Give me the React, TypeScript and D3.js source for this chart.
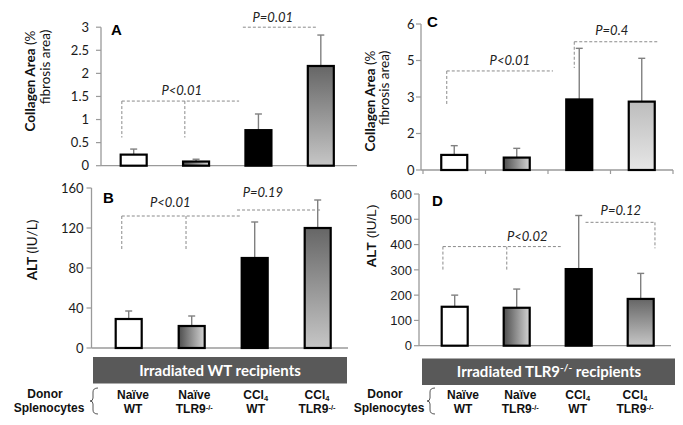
import * as d3 from 'd3';

const width = 683;
const height = 425;

// groups (donor splenocytes)
const groups = ['Naïve WT', 'Naïve TLR9-/-', 'CCl4 WT', 'CCl4 TLR9-/-'];

// A: collagen, irradiated WT recipients
const collagenWT = [0.24, 0.09, 0.77, 2.16];
const collagenWTErr = [0.12, 0.05, 0.35, 0.67];
// B: ALT, irradiated WT recipients
const altWT = [29, 22, 90, 120];
const altWTErr = [8, 10, 36, 28];
// C: collagen, irradiated TLR9-/- recipients
const collagenTLR9 = [0.62, 0.51, 2.9, 2.81];
const collagenTLR9Err = [0.38, 0.38, 2.1, 1.78];
// D: ALT, irradiated TLR9-/- recipients
const altTLR9 = [154, 150, 303, 185];
const altTLR9Err = [46, 74, 212, 101];

const ticksA = [0, 0.5, 1, 1.5, 2, 2.5, 3];
const tickLabelsA = ['0', '0.5', '1', '1.5', '2', '2.5', '3'];
const ticksB = [0, 40, 80, 120, 160];
const tickLabelsB = ['0', '40', '80', '120', '160'];
const ticksC = [0, 1.5, 3, 4.5, 6];
const tickLabelsC = ['0', '2', '3', '5', '6'];
const ticksD = [0, 100, 200, 300, 400, 500, 600];
const tickLabelsD = ['0', '100', '200', '300', '400', '500', '600'];

const pLabelsA = ['P<0.01', 'P=0.01'];
const pLabelsB = ['P<0.01', 'P=0.19'];
const pLabelsC = ['P<0.01', 'P=0.4'];
const pLabelsD = ['P<0.02', 'P=0.12'];

const calibri = 'Lato, "Open Sans", sans-serif';
const arial = '"Liberation Sans", Arial, sans-serif';

// brackets: x in category units (0..4), y in data units
const panels = [
  {
    id: 'A', values: collagenWT, errors: collagenWTErr, domain: [0, 3], ticks: ticksA, tickLabels: tickLabelsA,
    yRange: [165.7, 27.2], band: [102.5, 352], axisX: 101, axisEnd: 357, labelX: 89, xTicks: false, tickFont: calibri,
    fills: ['#fff', 'url(#hgrad)', '#000', 'url(#vgrad)'], pLabels: pLabelsA,
    brackets: [
      { x1: 0.31, x2: 2.19, y: 1.4, legs: [0.31, 1.32], legY: 0.61, tx: 1.27, ty: 1.53 },
      { x1: 2.25, x2: 3.44, y: 3.0, legs: [], legY: 0, tx: 2.73, ty: 3.11 },
    ],
    letter: [111, 35],
    title: [
      { x: 35, y: 81, parts: [['Collagen Area', true], [' (%', false]] },
      { x: 50, y: 67, parts: [['fibrosis area)', false]] },
    ],
    titleFont: calibri,
  },
  {
    id: 'B', values: altWT, errors: altWTErr, domain: [0, 160], ticks: ticksB, tickLabels: tickLabelsB,
    yRange: [348, 188], band: [97.2, 349.2], axisX: 91.5, axisEnd: 348, labelX: 83.5, xTicks: false, tickFont: calibri,
    fills: ['#fff', 'url(#hgrad)', '#000', 'url(#vgrad)'], pLabels: pLabelsB,
    brackets: [
      { x1: 0.39, x2: 2.27, y: 132, legs: [0.39, 1.41], legY: 97, tx: 1.16, ty: 141 },
      { x1: 2.22, x2: 3.54, y: 138, legs: [], legY: 0, tx: 2.63, ty: 151 },
    ],
    letter: [103, 203],
    title: [{ x: 37, y: 250, parts: [['ALT', true], [' (IU/L)', false]] }],
    titleFont: calibri,
  },
  {
    id: 'C', values: collagenTLR9, errors: collagenTLR9Err, domain: [0, 6], ticks: ticksC, tickLabels: tickLabelsC,
    yRange: [170, 24], band: [423, 673], axisX: 421, axisEnd: 673, labelX: 414.5, xTicks: true, tickFont: calibri,
    fills: ['#fff', 'url(#hgrad)', '#000', 'url(#vlight)'], pLabels: pLabelsC,
    brackets: [
      { x1: 0.38, x2: 2.08, y: 4.07, legs: [0.38], legY: 2.67, tx: 1.39, ty: 4.32 },
      { x1: 2.42, x2: 3.76, y: 5.27, legs: [2.42], legY: 4.19, tx: 3.02, ty: 5.55 },
    ],
    letter: [427, 27],
    title: [
      { x: 375, y: 101, parts: [['Collagen Area', true], [' (%', false]] },
      { x: 389, y: 88, parts: [['fibrosis area)', false]] },
    ],
    titleFont: calibri,
  },
  {
    id: 'D', values: altTLR9, errors: altTLR9Err, domain: [0, 600], ticks: ticksD, tickLabels: tickLabelsD,
    yRange: [345.7, 194], band: [423.7, 671.7], axisX: 419, axisEnd: 671, labelX: 412, xTicks: false, tickFont: arial,
    fills: ['#fff', 'url(#hgrad)', '#000', 'url(#vgrad)'], pLabels: pLabelsD,
    brackets: [
      { x1: 0.31, x2: 2.21, y: 392, legs: [0.31, 1.34], legY: 295, tx: 1.67, ty: 415 },
      { x1: 2.61, x2: 3.73, y: 488, legs: [3.73], legY: 385, tx: 3.18, ty: 517 },
    ],
    letter: [432, 206],
    title: [{ x: 376, y: 236, parts: [['ALT', true], [' (IU/L)', false]] }],
    titleFont: arial,
  },
];

const Panel = ({ p }: { p: any }) => {
  const y = d3.scaleLinear().domain(p.domain).range(p.yRange);
  const x = d3.scaleBand().domain(groups).range(p.band);
  const xc = d3.scaleLinear().domain([0, 4]).range(p.band);
  const bw = 26;
  const axisCol = '#9a9a9a';
  return (
    <g>
      {/* y axis */}
      <line x1={p.axisX} x2={p.axisX} y1={y(p.domain[0])} y2={y(p.domain[1])} stroke={axisCol} strokeWidth={1.3} />
      {p.ticks.map((t: number, i: number) => (
        <g key={i}>
          <line x1={p.axisX - 5} x2={p.axisX} y1={y(t)} y2={y(t)} stroke={axisCol} strokeWidth={1.2} />
          <text x={p.labelX} y={y(t)} dy="0.36em" textAnchor="end" fontFamily={p.tickFont} fontSize={13} fill="#1a1a1a">
            {p.tickLabels[i]}
          </text>
        </g>
      ))}
      {/* x axis */}
      <line x1={p.axisX} x2={p.axisEnd} y1={y(0)} y2={y(0)} stroke={axisCol} strokeWidth={1.3} />
      {p.xTicks && d3.range(5).map((i) => (
        <line key={i} x1={xc(i)} x2={xc(i)} y1={y(0)} y2={y(0) + 4} stroke={axisCol} strokeWidth={1.2} />
      ))}
      {/* bars */}
      {groups.map((g, i) => {
        const cx = (x(g) as number) + x.bandwidth() / 2;
        const v = p.values[i];
        const top = y(v + p.errors[i]);
        return (
          <g key={g}>
            <line x1={cx} x2={cx} y1={y(v)} y2={top} stroke="#808080" strokeWidth={1.4} />
            <line x1={cx - 3.5} x2={cx + 3.5} y1={top} y2={top} stroke="#808080" strokeWidth={1.4} />
            <rect x={cx - bw / 2} y={y(v)} width={bw} height={y(0) - y(v)} fill={p.fills[i]} stroke="#000" strokeWidth={2.2} />
          </g>
        );
      })}
      {/* significance brackets */}
      {p.brackets.map((b: any, i: number) => (
        <g key={i}>
          <line x1={xc(b.x1)} x2={xc(b.x2)} y1={y(b.y)} y2={y(b.y)} stroke="#8a8a8a" strokeWidth={1} strokeDasharray="3,2" />
          {b.legs.map((l: number, j: number) => (
            <line key={j} x1={xc(l)} x2={xc(l)} y1={y(b.y)} y2={y(b.legY)} stroke="#8a8a8a" strokeWidth={1} strokeDasharray="3,2" />
          ))}
          <text x={xc(b.tx)} y={y(b.ty)} textAnchor="middle" fontFamily={calibri} fontStyle="italic" fontSize={13} fill="#222">
            {p.pLabels[i]}
          </text>
        </g>
      ))}
      <text x={p.letter[0]} y={p.letter[1]} fontFamily={arial} fontWeight="bold" fontSize={15}>{p.id}</text>
      {p.title.map((t: any, i: number) => (
        <text key={i} transform={`translate(${t.x},${t.y}) rotate(-90)`} textAnchor="middle" fontFamily={p.titleFont} fontSize={13.5} fill="#111">
          {t.parts.map((pt: any, j: number) => (
            <tspan key={j} fontWeight={pt[1] ? 'bold' : 'normal'}>{pt[0]}</tspan>
          ))}
        </text>
      ))}
    </g>
  );
};

const brace = (xTip: number, xEnd: number, top: number, bottom: number) => {
  const mid = (top + bottom) / 2;
  const xm = xTip + 3;
  return `M${xEnd},${top} Q${xm},${top} ${xm},${top + 4} L${xm},${mid - 3} Q${xm},${mid} ${xTip},${mid} Q${xm},${mid} ${xm},${mid + 3} L${xm},${bottom - 4} Q${xm},${bottom} ${xEnd},${bottom}`;
};

const GroupLabel = ({ g, x }: { g: string; x: number }) => {
  const [a, b] = g.split(' ');
  const isCCl = a === 'CCl4';
  const isTLR = b.startsWith('TLR9');
  return (
    <g fontFamily={arial} fontWeight="bold" fontSize={12} textAnchor="middle" fill="#111">
      <text x={x} y={398.5}>
        {isCCl ? (<><tspan>CCl</tspan><tspan fontSize={7.5} dy={2}>4</tspan></>) : a}
      </text>
      <text x={x} y={413}>
        {isTLR ? (<><tspan>TLR9</tspan><tspan fontSize={7.5} dy={-3.5}>-/-</tspan></>) : b}
      </text>
    </g>
  );
};

const Footer = ({ bx, bw, by, title, sup, rest, tx, donorX, braceX, labelRange }: any) => {
  const lx = d3.scalePoint().domain(groups).range(labelRange);
  return (
    <g>
      <rect x={bx} y={by} width={bw} height={26.5} fill="#595959" />
      <text x={tx} y={by + 18.5} textAnchor="middle" fill="#fff" fontFamily={calibri} fontWeight="bold" fontSize={15}>
        <tspan>{title}</tspan>
        {sup && <tspan fontSize={10} dy={-6}>{sup}</tspan>}
        <tspan dy={sup ? 6 : 0}>{rest}</tspan>
      </text>
      <g fontFamily={arial} fontWeight="bold" fontSize={12} textAnchor="middle" fill="#111">
        <text x={donorX} y={398}>Donor</text>
        <text x={donorX + 4} y={412}>Splenocytes</text>
      </g>
      <path d={brace(braceX[0], braceX[1], 388, 414)} fill="none" stroke="#555" strokeWidth={1} />
      {groups.map((g) => (
        <GroupLabel key={g} g={g} x={lx(g) as number} />
      ))}
    </g>
  );
};

export default function App() {
  return (
    <svg width={width} height={height} style={{ position: 'absolute', left: 0, top: 0, background: '#fff' }}>
      <defs>
        <linearGradient id="hgrad" x1="0" x2="1" y1="0" y2="0">
          <stop offset="0" stopColor="#4d4d4d" />
          <stop offset="1" stopColor="#d4d4d4" />
        </linearGradient>
        <linearGradient id="vgrad" x1="0" x2="0" y1="0" y2="1">
          <stop offset="0" stopColor="#666" />
          <stop offset="1" stopColor="#c6c6c6" />
        </linearGradient>
        <linearGradient id="vlight" x1="0" x2="0" y1="0" y2="1">
          <stop offset="0" stopColor="#bdbdbd" />
          <stop offset="1" stopColor="#e6e6e6" />
        </linearGradient>
      </defs>
      {panels.map((p) => (
        <Panel key={p.id} p={p} />
      ))}
      <Footer bx={93} bw={254} by={357} title="Irradiated WT recipients" sup="" rest="" tx={220}
        donorX={45} braceX={[90, 98]} labelRange={[133, 317]} />
      <Footer bx={422} bw={253} by={358.5} title="Irradiated TLR9" sup="-/-" rest=" recipients" tx={549}
        donorX={385} braceX={[427, 435]} labelRange={[463, 635]} />
    </svg>
  );
}
